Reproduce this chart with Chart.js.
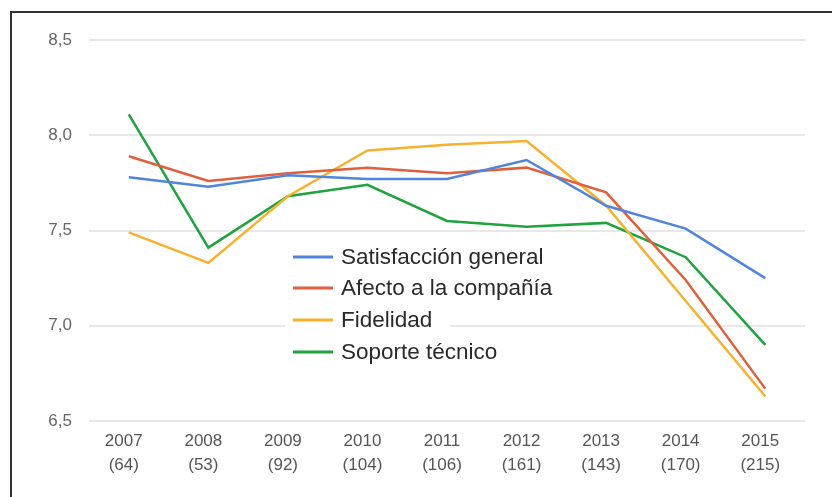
<!DOCTYPE html>
<html>
<head>
<meta charset="utf-8">
<script src="https://cdn.jsdelivr.net/npm/chart.js@4/dist/chart.umd.min.js"></script>
<style>
  html, body { margin: 0; padding: 0; background: #fff; }
  #wrap { position: relative; width: 832px; height: 497px; overflow: hidden; }
  #frame { position: absolute; left: 10px; top: 11px; width: 900px; height: 600px;
           border-left: 2px solid #333; border-top: 2px solid #333; box-sizing: border-box; }
  canvas { position: absolute; left: 0; top: 0; }
</style>
</head>
<body>
<div id="wrap">
  <div id="frame"></div>
  <canvas id="c" width="832" height="497"></canvas>
</div>
<script>
const years = ['2007','2008','2009','2010','2011','2012','2013','2014','2015'];
const counts = ['(64)','(53)','(92)','(104)','(106)','(161)','(143)','(170)','(215)'];
const satisfaccion = [7.78, 7.73, 7.79, 7.77, 7.77, 7.87, 7.63, 7.51, 7.25];
const afecto = [7.89, 7.76, 7.80, 7.83, 7.80, 7.83, 7.70, 7.24, 6.67];
const fidelidad = [7.49, 7.33, 7.68, 7.92, 7.95, 7.97, 7.63, 7.13, 6.63];
const soporte = [8.11, 7.41, 7.68, 7.74, 7.55, 7.52, 7.54, 7.36, 6.90];
const seriesNames = ['Satisfacción general', 'Afecto a la compañía', 'Fidelidad', 'Soporte técnico'];
const yTicks = [6.5, 7.0, 7.5, 8.0, 8.5];

const colors = ['#4f86dc', '#e0603e', '#f7b12f', '#20a33e'];
const labels = years.map((y, i) => [y, counts[i]]);

const legendPlugin = {
  id: 'innerLegend',
  afterDatasetsDraw(chart) {
    const ctx = chart.ctx;
    ctx.save();
    ctx.font = '22.5px "Liberation Sans", Arial, sans-serif';
    ctx.textBaseline = 'middle';
    const x0 = 293, rowY = [257, 288, 320, 352];
    chart.data.datasets.forEach((ds, i) => {
      const y = rowY[i];
      const w = ctx.measureText(ds.label).width;
      ctx.fillStyle = '#fff';
      ctx.fillRect(x0 - 8, y - 14, 48 + w + 26, 28);
    });
    chart.data.datasets.forEach((ds, i) => {
      const y = rowY[i];
      ctx.strokeStyle = ds.borderColor;
      ctx.lineWidth = 3;
      ctx.beginPath();
      ctx.moveTo(x0, y);
      ctx.lineTo(x0 + 40, y);
      ctx.stroke();
      ctx.fillStyle = '#2a2a2a';
      ctx.textAlign = 'left';
      ctx.fillText(ds.label, x0 + 48, y + 1);
    });
    ctx.restore();
  }
};

new Chart(document.getElementById('c'), {
  type: 'line',
  data: {
    labels: labels,
    datasets: [satisfaccion, afecto, fidelidad, soporte].map((d, i) => ({
      label: seriesNames[i],
      data: d,
      borderColor: colors[i],
      backgroundColor: colors[i],
      borderWidth: 2.5,
      pointRadius: 0,
      tension: 0,
      fill: false
    }))
  },
  options: {
    responsive: false,
    animation: false,
    layout: { padding: { top: 40, right: 27, bottom: 0, left: 0 } },
    plugins: { legend: { display: false }, tooltip: { enabled: false } },
    scales: {
      x: {
        offset: true,
        grid: { display: false, drawTicks: false },
        border: { display: false },
        ticks: {
          color: '#555',
          font: { family: '"Liberation Sans", Arial, sans-serif', size: 17, lineHeight: 1.42 },
          padding: 8,
          labelOffset: -5,
          maxRotation: 0,
          autoSkip: false
        },
        afterFit(scale) { scale.height = 76; }
      },
      y: {
        min: 6.5,
        max: 8.5,
        afterBuildTicks(scale) { scale.ticks = yTicks.map(v => ({ value: v })); },
        grid: { color: '#e8e8e8', lineWidth: 2, drawTicks: false },
        border: { display: false },
        ticks: {
          color: '#666',
          font: { family: '"Liberation Sans", Arial, sans-serif', size: 17 },
          padding: 17,
          callback: v => v.toFixed(1).replace('.', ',')
        },
        afterFit(scale) { scale.width = 89; }
      }
    }
  },
  plugins: [legendPlugin]
});
</script>
</body>
</html>
